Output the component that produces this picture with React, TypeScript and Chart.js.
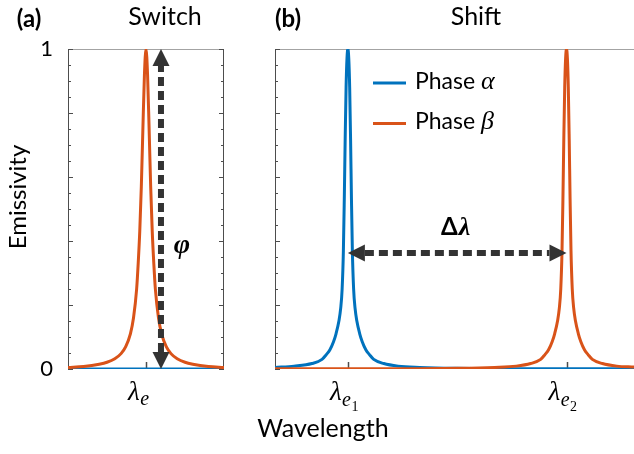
import React, { useEffect, useRef } from "react";
import { Chart, registerables } from "chart.js";

Chart.register(...registerables);

const BLUE = "#0072BD";
const ORANGE = "#D95319";
const ARROW = "#333333";
const SANS = "Lato, 'Open Sans', sans-serif";
const SERIF = "'Liberation Serif', 'DejaVu Serif', serif";

// ---------- Panel (a): Switch ----------
const switchAlphaX = [0, 100];
const switchAlphaY = [0, 0];
const switchBetaX = [0, 10, 20, 25, 30, 34, 37, 40, 42, 44, 45, 46, 47, 48, 49, 50, 51, 52, 53, 54, 55, 56, 58, 60, 63, 66, 70, 75, 80, 90, 100];
const switchBetaY = [0.005, 0.008, 0.015, 0.021, 0.032, 0.048, 0.07, 0.11, 0.16, 0.25, 0.33, 0.43, 0.57, 0.75, 0.92, 1, 0.92, 0.75, 0.57, 0.43, 0.33, 0.25, 0.16, 0.11, 0.07, 0.048, 0.032, 0.021, 0.015, 0.008, 0.005];
const switchXTicks = [50];
const switchXTickSubs = [["e"]];
const switchArrowX = 59.6;
const switchArrowY = [0, 1];

// ---------- Panel (b): Shift ----------
const shiftAlphaX = [0, 5.3, 10.3, 13.1, 14.3, 15.3, 16.3, 17.0, 17.8, 18.3, 18.7, 19.05, 19.3, 19.55, 19.8, 20.05, 20.3, 20.55, 20.8, 21.05, 21.3, 21.55, 21.9, 22.3, 22.8, 23.6, 24.3, 25.3, 26.3, 27.5, 30.3, 34.3, 40.3, 50.3, 65.3, 80, 100];
const shiftAlphaY = [0.005, 0.009, 0.017, 0.03, 0.045, 0.06, 0.085, 0.11, 0.15, 0.19, 0.25, 0.37, 0.53, 0.72, 0.88, 0.97, 1, 0.97, 0.88, 0.72, 0.53, 0.37, 0.25, 0.19, 0.15, 0.11, 0.085, 0.06, 0.045, 0.03, 0.017, 0.009, 0.005, 0.002, 0.001, 0.0008, 0.0004];
const shiftBetaX = [0, 20, 36.2, 51.2, 61.2, 67.2, 71.2, 74.0, 75.2, 76.2, 77.2, 77.9, 78.7, 79.2, 79.6, 79.95, 80.2, 80.45, 80.7, 80.95, 81.2, 81.45, 81.7, 81.95, 82.2, 82.45, 82.8, 83.2, 83.7, 84.5, 85.2, 86.2, 87.2, 88.4, 91.2, 95.2, 100];
const shiftBetaY = [0.0004, 0.0007, 0.001, 0.002, 0.005, 0.009, 0.017, 0.03, 0.045, 0.06, 0.085, 0.11, 0.15, 0.19, 0.25, 0.37, 0.53, 0.72, 0.88, 0.97, 1, 0.97, 0.88, 0.72, 0.53, 0.37, 0.25, 0.19, 0.15, 0.11, 0.085, 0.06, 0.045, 0.03, 0.017, 0.009, 0.006];
const shiftXTicks = [20.3, 81.2];
const shiftXTickSubs = [["e", "1"], ["e", "2"]];
const shiftArrowY = 0.3625;
const shiftArrowX = [20.3, 81.2];

// ---------- Shared axis ticks ----------
const yTickValues = [0, 0.05, 0.1, 0.15, 0.2, 0.25, 0.3, 0.35, 0.4, 0.45, 0.5, 0.55, 0.6, 0.65, 0.7, 0.75, 0.8, 0.85, 0.9, 0.95, 1];
const yMajorTicks = [0, 0.2, 0.4, 0.6, 0.8, 1];
const yLabelValues = [0, 1];
const yLabels = ["0", "1"];

const legendNames = ["Phase ", "Phase "];
const legendGreek = ["\u03B1", "\u03B2"];

function pts(xs: number[], ys: number[]) {
  return xs.map((x, i) => ({ x, y: ys[i] }));
}

function seg(ctx: CanvasRenderingContext2D, x1: number, y1: number, x2: number, y2: number) {
  ctx.beginPath();
  ctx.moveTo(x1, y1);
  ctx.lineTo(x2, y2);
  ctx.stroke();
}

function drawDoubleArrow(ctx: CanvasRenderingContext2D, x1: number, y1: number, x2: number, y2: number) {
  const len = Math.hypot(x2 - x1, y2 - y1);
  const ux = (x2 - x1) / len;
  const uy = (y2 - y1) / len;
  const hl = 17;
  const hw = 8.5;
  ctx.save();
  ctx.strokeStyle = ARROW;
  ctx.fillStyle = ARROW;
  ctx.lineWidth = 6;
  ctx.setLineDash([9, 5]);
  seg(ctx, x1 + ux * hl, y1 + uy * hl, x2 - ux * hl, y2 - uy * hl);
  ctx.setLineDash([]);
  const head = (tx: number, ty: number, dx: number, dy: number) => {
    const bx = tx - dx * hl;
    const by = ty - dy * hl;
    ctx.beginPath();
    ctx.moveTo(tx, ty);
    ctx.lineTo(bx - dy * hw, by + dx * hw);
    ctx.lineTo(bx + dy * hw, by - dx * hw);
    ctx.closePath();
    ctx.fill();
  };
  head(x1, y1, -ux, -uy);
  head(x2, y2, ux, uy);
  ctx.restore();
}

function drawLambda(ctx: CanvasRenderingContext2D, tickPx: number, subs: string[]) {
  ctx.save();
  ctx.fillStyle = "#000";
  ctx.textBaseline = "alphabetic";
  ctx.textAlign = "left";
  let x = tickPx - 18;
  ctx.font = `italic 27px ${SERIF}`;
  ctx.fillText("\u03BB", x, 400);
  x += ctx.measureText("\u03BB").width + 0.5;
  ctx.font = `italic 20px ${SERIF}`;
  const eBase = subs.length > 1 ? 406 : 405;
  ctx.fillText(subs[0], x, eBase);
  x += ctx.measureText(subs[0]).width + 0.5;
  if (subs.length > 1) {
    ctx.font = `14px ${SERIF}`;
    ctx.fillText(subs[1], x, 411);
  }
  ctx.restore();
}

type Decor = {
  rightBorder: boolean;
  xTicks: number[];
  xSubs: string[][];
  extra: (chart: any) => void;
};

function makeDecor(cfg: Decor) {
  return {
    id: "decor",
    beforeDatasetsDraw(chart: any) {
      const { ctx, chartArea: a, scales } = chart;
      const x = scales.x;
      const y = scales.y;
      ctx.save();
      ctx.lineWidth = 1;
      ctx.strokeStyle = "#a3a3a3";
      seg(ctx, a.left, a.top + 0.5, a.right, a.top + 0.5);
      ctx.strokeStyle = "#4d4d4d";
      seg(ctx, a.left + 0.5, a.top, a.left + 0.5, a.bottom);
      seg(ctx, a.left, a.bottom - 0.5, a.right, a.bottom - 0.5);
      if (cfg.rightBorder) seg(ctx, a.right - 0.5, a.top, a.right - 0.5, a.bottom);
      yTickValues.forEach((v) => {
        const py = Math.round(y.getPixelForValue(v)) + 0.5;
        const len = yMajorTicks.includes(v) ? 5 : 3;
        seg(ctx, a.left, py, a.left + len, py);
        if (cfg.rightBorder) seg(ctx, a.right, py, a.right - len, py);
      });
      cfg.xTicks.forEach((v) => {
        const px = Math.round(x.getPixelForValue(v)) + 0.5;
        ctx.lineWidth = 1.5;
        seg(ctx, px, a.bottom, px, a.bottom - 7);
      });
      ctx.restore();
    },
    afterDatasetsDraw(chart: any) {
      const { ctx, scales } = chart;
      cfg.xTicks.forEach((v, i) => drawLambda(ctx, scales.x.getPixelForValue(v), cfg.xSubs[i]));
      cfg.extra(chart);
    },
  };
}

function text(ctx: CanvasRenderingContext2D, s: string, x: number, y: number, font: string, align: CanvasTextAlign = "center") {
  ctx.font = font;
  ctx.textAlign = align;
  ctx.textBaseline = "alphabetic";
  ctx.fillStyle = "#000";
  ctx.fillText(s, x, y);
}

function lineDataset(label: string, data: any[], color: string, order: number) {
  return {
    label,
    data,
    borderColor: color,
    backgroundColor: color,
    borderWidth: 3,
    pointRadius: 0,
    pointHoverRadius: 0,
    cubicInterpolationMode: "monotone" as const,
    fill: false,
    order,
  };
}

export default function App() {
  const refA = useRef<HTMLCanvasElement>(null);
  const refB = useRef<HTMLCanvasElement>(null);

  useEffect(() => {
    const commonX = (h: number) => ({
      type: "linear" as const,
      min: 0,
      max: 100,
      ticks: { display: false },
      grid: { display: false, drawTicks: false },
      border: { display: false },
      afterFit: (s: any) => {
        s.height = h;
      },
    });

    const chartA = new Chart(refA.current!, {
      type: "line",
      data: {
        datasets: [
          lineDataset("Phase \u03B1", pts(switchAlphaX, switchAlphaY), BLUE, 1),
          lineDataset("Phase \u03B2", pts(switchBetaX, switchBetaY), ORANGE, 0),
        ],
      },
      options: {
        animation: false,
        responsive: false,
        devicePixelRatio: 1,
        layout: { padding: { top: 49, right: 16, left: 0, bottom: 0 } },
        plugins: { legend: { display: false }, tooltip: { enabled: false }, title: { display: false } },
        events: [],
        scales: {
          x: commonX(85),
          y: {
            type: "linear",
            min: 0,
            max: 1,
            ticks: {
              stepSize: 1,
              padding: 15,
              color: "#000",
              font: { family: SANS, size: 22 },
              callback: (v: any) => {
                const i = yLabelValues.indexOf(Number(v));
                return i >= 0 ? yLabels[i] : "";
              },
            },
            grid: { display: false, drawTicks: false },
            border: { display: false },
            afterFit: (s: any) => {
              s.width = 68;
            },
          },
        },
      },
      plugins: [
        makeDecor({
          rightBorder: true,
          xTicks: switchXTicks,
          xSubs: switchXTickSubs,
          extra: (chart: any) => {
            const { ctx, scales } = chart;
            const ax = scales.x.getPixelForValue(switchArrowX);
            drawDoubleArrow(ctx, ax, scales.y.getPixelForValue(switchArrowY[0]), ax, scales.y.getPixelForValue(switchArrowY[1]));
            ctx.save();
            text(ctx, "\u03C6", ax + 21, 253, `bold italic 28px ${SERIF}`);
            text(ctx, "(a)", 29, 27, `bold 24px ${SANS}`);
            text(ctx, "Switch", 165, 25, `25px ${SANS}`);
            ctx.translate(18, 197);
            ctx.rotate(-Math.PI / 2);
            ctx.font = `24px ${SANS}`;
            ctx.textAlign = "center";
            ctx.textBaseline = "middle";
            ctx.fillStyle = "#000";
            ctx.fillText("Emissivity", 0, 0);
            ctx.restore();
          },
        }),
      ],
    } as any);

    const chartB = new Chart(refB.current!, {
      type: "line",
      data: {
        datasets: [
          lineDataset("Phase \u03B1", pts(shiftAlphaX, shiftAlphaY), BLUE, 1),
          lineDataset("Phase \u03B2", pts(shiftBetaX, shiftBetaY), ORANGE, 0),
        ],
      },
      options: {
        animation: false,
        responsive: false,
        devicePixelRatio: 1,
        layout: { padding: { top: 49, right: 0, left: 0, bottom: 0 } },
        plugins: { legend: { display: false }, tooltip: { enabled: false }, title: { display: false } },
        events: [],
        scales: {
          x: commonX(85),
          y: {
            type: "linear",
            min: 0,
            max: 1,
            ticks: { display: false },
            grid: { display: false, drawTicks: false },
            border: { display: false },
            afterFit: (s: any) => {
              s.width = 35;
            },
          },
        },
      },
      plugins: [
        makeDecor({
          rightBorder: false,
          xTicks: shiftXTicks,
          xSubs: shiftXTickSubs,
          extra: (chart: any) => {
            const { ctx, scales, chartArea: a } = chart;
            const ay = scales.y.getPixelForValue(shiftArrowY);
            const x1 = scales.x.getPixelForValue(shiftArrowX[0]);
            const x2 = scales.x.getPixelForValue(shiftArrowX[1]);
            drawDoubleArrow(ctx, x1, ay, x2, ay);
            ctx.save();
            // Delta lambda label
            ctx.font = `bold 24px ${SANS}`;
            const wD = ctx.measureText("\u0394").width;
            ctx.font = `bold italic 26px ${SERIF}`;
            const wL = ctx.measureText("\u03BB").width;
            const sx = (x1 + x2) / 2 - 1.5 - (wD + wL + 1) / 2;
            text(ctx, "\u0394", sx, ay - 18, `bold 24px ${SANS}`, "left");
            text(ctx, "\u03BB", sx + wD + 1, ay - 18, `bold italic 26px ${SERIF}`, "left");
            // titles
            text(ctx, "(b)", 48, 27, `bold 24px ${SANS}`);
            text(ctx, "Shift", 236, 25, `25px ${SANS}`);
            text(ctx, "Wavelength", 83, 437, `25px ${SANS}`);
            // legend
            const colors = [BLUE, ORANGE];
            const rowsY = [83, 123.5];
            const lx = a.left + 98;
            colors.forEach((c, i) => {
              ctx.strokeStyle = c;
              ctx.lineWidth = 3;
              seg(ctx, lx, rowsY[i], lx + 33, rowsY[i]);
              text(ctx, legendNames[i], lx + 42, rowsY[i] + 5.5, `23px ${SANS}`, "left");
              ctx.font = `23px ${SANS}`;
              const w = ctx.measureText(legendNames[i]).width;
              text(ctx, legendGreek[i], lx + 42 + w, rowsY[i] + 5.5, `italic 26px ${SERIF}`, "left");
            });
            ctx.restore();
          },
        }),
      ],
    } as any);

    return () => {
      chartA.destroy();
      chartB.destroy();
    };
  }, []);

  return (
    <div style={{ position: "absolute", left: 0, top: 0, width: 634, height: 454, background: "#fff" }}>
      <canvas ref={refA} width={240} height={454} style={{ position: "absolute", left: 0, top: 0, width: 240, height: 454 }} />
      <canvas ref={refB} width={394} height={454} style={{ position: "absolute", left: 240, top: 0, width: 394, height: 454 }} />
    </div>
  );
}
